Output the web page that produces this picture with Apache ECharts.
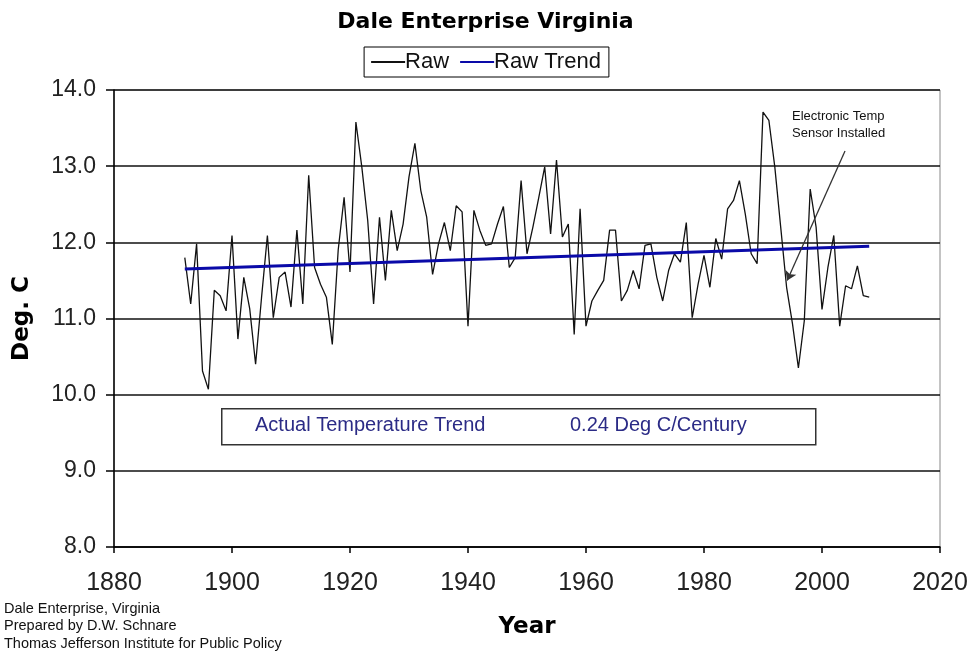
<!DOCTYPE html>
<html>
<head>
<meta charset="utf-8">
<script src="https://cdn.jsdelivr.net/npm/echarts@6/dist/echarts.min.js"></script>
<style>
html,body{margin:0;padding:0;background:#fff;}
#chart{width:971px;height:652px;}
</style>
</head>
<body>
<div id="chart"></div>
<script>
var firstYear = 1892;
var rawValues = [
  11.80, 11.19, 11.98, 10.31, 10.07, 11.37, 11.30, 11.10, 12.09, 10.73,
  11.54, 11.13, 10.40, 11.27, 12.09, 11.01, 11.54, 11.61, 11.15, 12.16,
  11.19, 12.88, 11.67, 11.45, 11.28, 10.66, 11.90, 12.59, 11.61, 13.58,
  12.99, 12.29, 11.19, 12.33, 11.50, 12.42, 11.89, 12.24, 12.86, 13.30,
  12.68, 12.33, 11.58, 11.98, 12.26, 11.89, 12.48, 12.40, 10.90, 12.42,
  12.16, 11.96, 11.98, 12.24, 12.47, 11.67, 11.80, 12.81, 11.85, 12.20,
  12.59, 12.99, 12.11, 13.08, 12.07, 12.24, 10.79, 12.44, 10.90, 11.23,
  11.37, 11.50, 12.16, 12.16, 11.23, 11.37, 11.63, 11.39, 11.96, 11.98,
  11.54, 11.23, 11.63, 11.85, 11.74, 12.26, 11.01, 11.45, 11.83, 11.41,
  12.05, 11.78, 12.44, 12.55, 12.81, 12.37, 11.85, 11.72, 13.71, 13.60,
  12.99, 12.20, 11.41, 10.93, 10.35, 10.97, 12.70, 12.20, 11.12, 11.67,
  12.09, 10.90, 11.43, 11.39, 11.69, 11.30, 11.28
];
var trendYears = [1892, 2008];
var trendValues = [11.65, 11.95];
var xTicks = [1880, 2020, 20];
var yTicks = [8, 14, 1];
var sensorArrow = [[2003.9, 13.2], [1994.1, 11.5]];

var rawData = rawValues.map(function (v, i) { return [firstYear + i, v]; });
var trendData = trendYears.map(function (y, i) { return [y, trendValues[i]]; });

var FONT = 'Liberation Sans, Arial, sans-serif';
var BOLD = 'DejaVu Sans, Verdana, sans-serif';
var chart = echarts.init(document.getElementById('chart'));
chart.setOption({
  animation: false,
  backgroundColor: '#fff',
  title: {
    text: 'Dale Enterprise Virginia',
    left: 'center', top: 6,
    textStyle: { fontFamily: BOLD, fontWeight: 'bold', fontSize: 22, color: '#000' }
  },
  legend: {
    top: 47, left: 'center',
    borderColor: '#000', borderWidth: 1,
    padding: [4, 8, 4, 6],
    itemGap: 10, itemWidth: 34, itemHeight: 14,
    itemStyle: { opacity: 0, borderWidth: 0 },
    textStyle: { fontFamily: FONT, fontSize: 22, color: '#111', padding: [0, 0, 0, -5] },
    data: ['Raw', 'Raw Trend']
  },
  grid: {
    left: 114, right: 31, top: 90, bottom: 105,
    show: true, borderColor: '#888', borderWidth: 1
  },
  xAxis: {
    type: 'value', min: xTicks[0], max: xTicks[1], interval: xTicks[2],
    name: 'Year', nameLocation: 'middle', nameGap: 69,
    nameTextStyle: { fontFamily: BOLD, fontWeight: 'bold', fontSize: 23, color: '#000' },
    axisLine: { lineStyle: { color: '#000', width: 1.5 } },
    axisTick: { inside: false, length: 6, lineStyle: { color: '#000', width: 1.5 } },
    axisLabel: { fontFamily: FONT, fontSize: 25, color: '#222', margin: 24,
      formatter: function (v) { return String(v); } },
    splitLine: { show: false }
  },
  yAxis: {
    type: 'value', min: yTicks[0], max: yTicks[1], interval: yTicks[2],
    name: 'Deg. C', nameLocation: 'middle', nameGap: 80, nameRotate: 90,
    nameTextStyle: { fontFamily: BOLD, fontWeight: 'bold', fontSize: 23, color: '#000' },
    axisLine: { show: true, lineStyle: { color: '#000', width: 1.5 } },
    axisTick: { show: true, inside: false, length: 8, lineStyle: { color: '#000', width: 1.5 } },
    axisLabel: { fontFamily: FONT, fontSize: 23, color: '#222', margin: 18,
      formatter: function (v) { return v.toFixed(1); } },
    splitLine: { show: true, lineStyle: { color: '#111', width: 1.5 } }
  },
  series: [
    {
      name: 'Raw', type: 'line', data: rawData,
      symbol: 'none', smooth: false,
      lineStyle: { color: '#111', width: 1.3 },
      itemStyle: { color: '#111' },
      z: 3,
      markLine: {
        silent: true, symbol: ['none', 'arrow'], symbolSize: 9,
        lineStyle: { color: '#333', width: 1.3, type: 'solid' },
        label: { show: false },
        data: [[{ coord: sensorArrow[0] }, { coord: sensorArrow[1] }]]
      }
    },
    {
      name: 'Raw Trend', type: 'line', data: trendData,
      symbol: 'none',
      lineStyle: { color: '#0a0aa8', width: 3 },
      itemStyle: { color: '#0a0aa8' },
      z: 4
    }
  ],
  graphic: [
    {
      type: 'rect', left: 221, top: 408, z: 10,
      shape: { width: 594, height: 36 },
      style: { fill: '#fff', stroke: '#333', lineWidth: 1.5 }
    },
    {
      type: 'text', left: 255, top: 415, z: 11,
      style: { text: 'Actual Temperature Trend', font: '20px ' + FONT, fill: '#2b2b86' }
    },
    {
      type: 'text', left: 570, top: 415, z: 11,
      style: { text: '0.24 Deg C/Century', font: '20px ' + FONT, fill: '#2b2b86' }
    },
    {
      type: 'text', left: 792, top: 108, z: 11,
      style: { text: 'Electronic Temp\nSensor Installed', font: '13px ' + FONT, fill: '#111', lineHeight: 17 }
    },
    {
      type: 'text', left: 4, top: 600,
      style: { text: 'Dale Enterprise, Virginia\nPrepared by D.W. Schnare\nThomas Jefferson Institute for Public Policy',
        font: '14.5px ' + FONT, fill: '#111', lineHeight: 17.5 }
    }
  ]
});
</script>
</body>
</html>
